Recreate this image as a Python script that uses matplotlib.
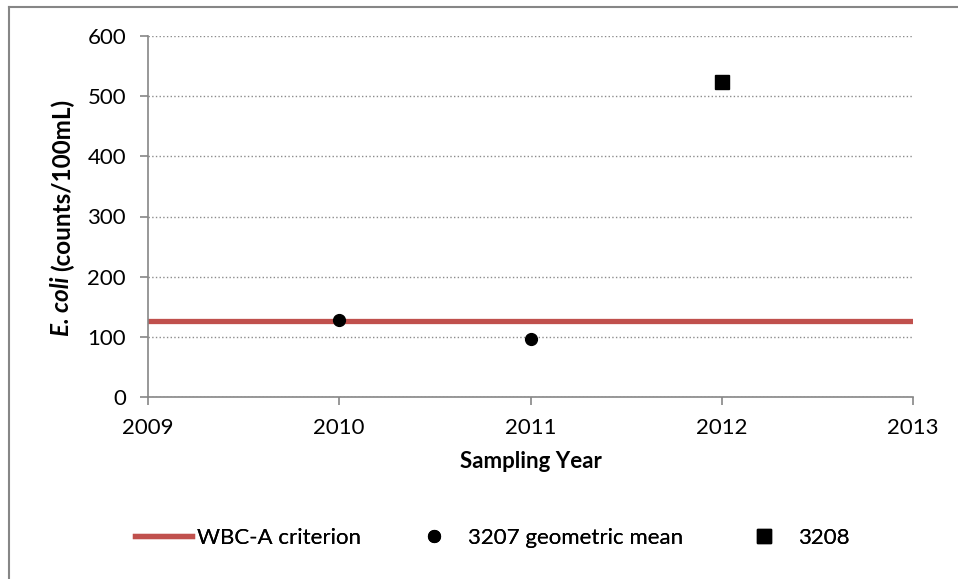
import matplotlib.pyplot as plt
from matplotlib.lines import Line2D

# data
criterion_years = [2009, 2013]
criterion = [126, 126]
years_3207 = [2010, 2011]
geomean_3207 = [128, 96]
years_3208 = [2012]
geomean_3208 = [523]

plt.rcParams['font.family'] = ['Lato', 'DejaVu Sans']
fs = 16
W, H = 958, 579

fig = plt.figure(figsize=(W / 100, H / 100), dpi=100)
ax = fig.add_axes([148 / W, 1 - 397 / H, (913 - 148) / W, (397 - 36) / H])

l1, = ax.plot(criterion_years, criterion, color='#C0504D', lw=3.8, label='WBC-A criterion', zorder=2)
l2, = ax.plot(years_3207, geomean_3207, 'o', color='black', ms=8.5, label='3207 geometric mean', zorder=3)
l3, = ax.plot(years_3208, geomean_3208, 's', color='black', ms=10.5, label='3208', zorder=3)

ax.set_xlim(2009, 2013)
ax.set_ylim(0, 600)
ax.set_xticks([2009, 2010, 2011, 2012, 2013])
ax.set_yticks(range(0, 601, 100))
ax.yaxis.grid(True, linestyle=':', color='#8c8c8c', lw=1)
ax.set_axisbelow(True)
for s in ['top', 'right']:
    ax.spines[s].set_visible(False)
for s in ['left', 'bottom']:
    ax.spines[s].set_color('#868686')
    ax.spines[s].set_linewidth(1.2)
ax.tick_params(colors='#868686', labelcolor='black', labelsize=fs, length=5.8, width=1.2)
ax.tick_params(axis='y', pad=10)
ax.tick_params(axis='x', pad=9)

ax.set_xlabel('Sampling Year', fontsize=fs, fontweight='bold', labelpad=10)

# y label: italic species name + bold units
yfs = 17.5
t1 = fig.text(62 / W, 1 - 336 / H, 'E. coli ', fontsize=yfs, fontweight='bold', style='italic',
              rotation=90, ha='center', va='bottom')
ax.annotate('(counts/100mL)', xy=(0.5, 1), xycoords=t1, fontsize=yfs, fontweight='bold',
            rotation=90, ha='center', va='bottom')

# legend entries placed like the original (one per handle)
leg_y = 1 - 538 / H
for handle, x0 in [(l1, 135), (l2, 406), (l3, 736)]:
    lg = fig.legend(handles=[handle], loc='center left', bbox_to_anchor=(x0 / W, leg_y),
                    frameon=False, fontsize=fs, handlelength=2.56, handletextpad=0.25,
                    borderpad=0, borderaxespad=0)
    fig.add_artist(lg)

# chart border (only top and left visible in the crop)
fig.add_artist(Line2D([8.5 / W, 8.5 / W], [0, 1 - 7 / H], transform=fig.transFigure,
                      color='#868686', lw=1.5))
fig.add_artist(Line2D([8.5 / W, 1], [1 - 7 / H, 1 - 7 / H], transform=fig.transFigure,
                      color='#868686', lw=1.5))

fig.savefig('out.png', dpi=100)
